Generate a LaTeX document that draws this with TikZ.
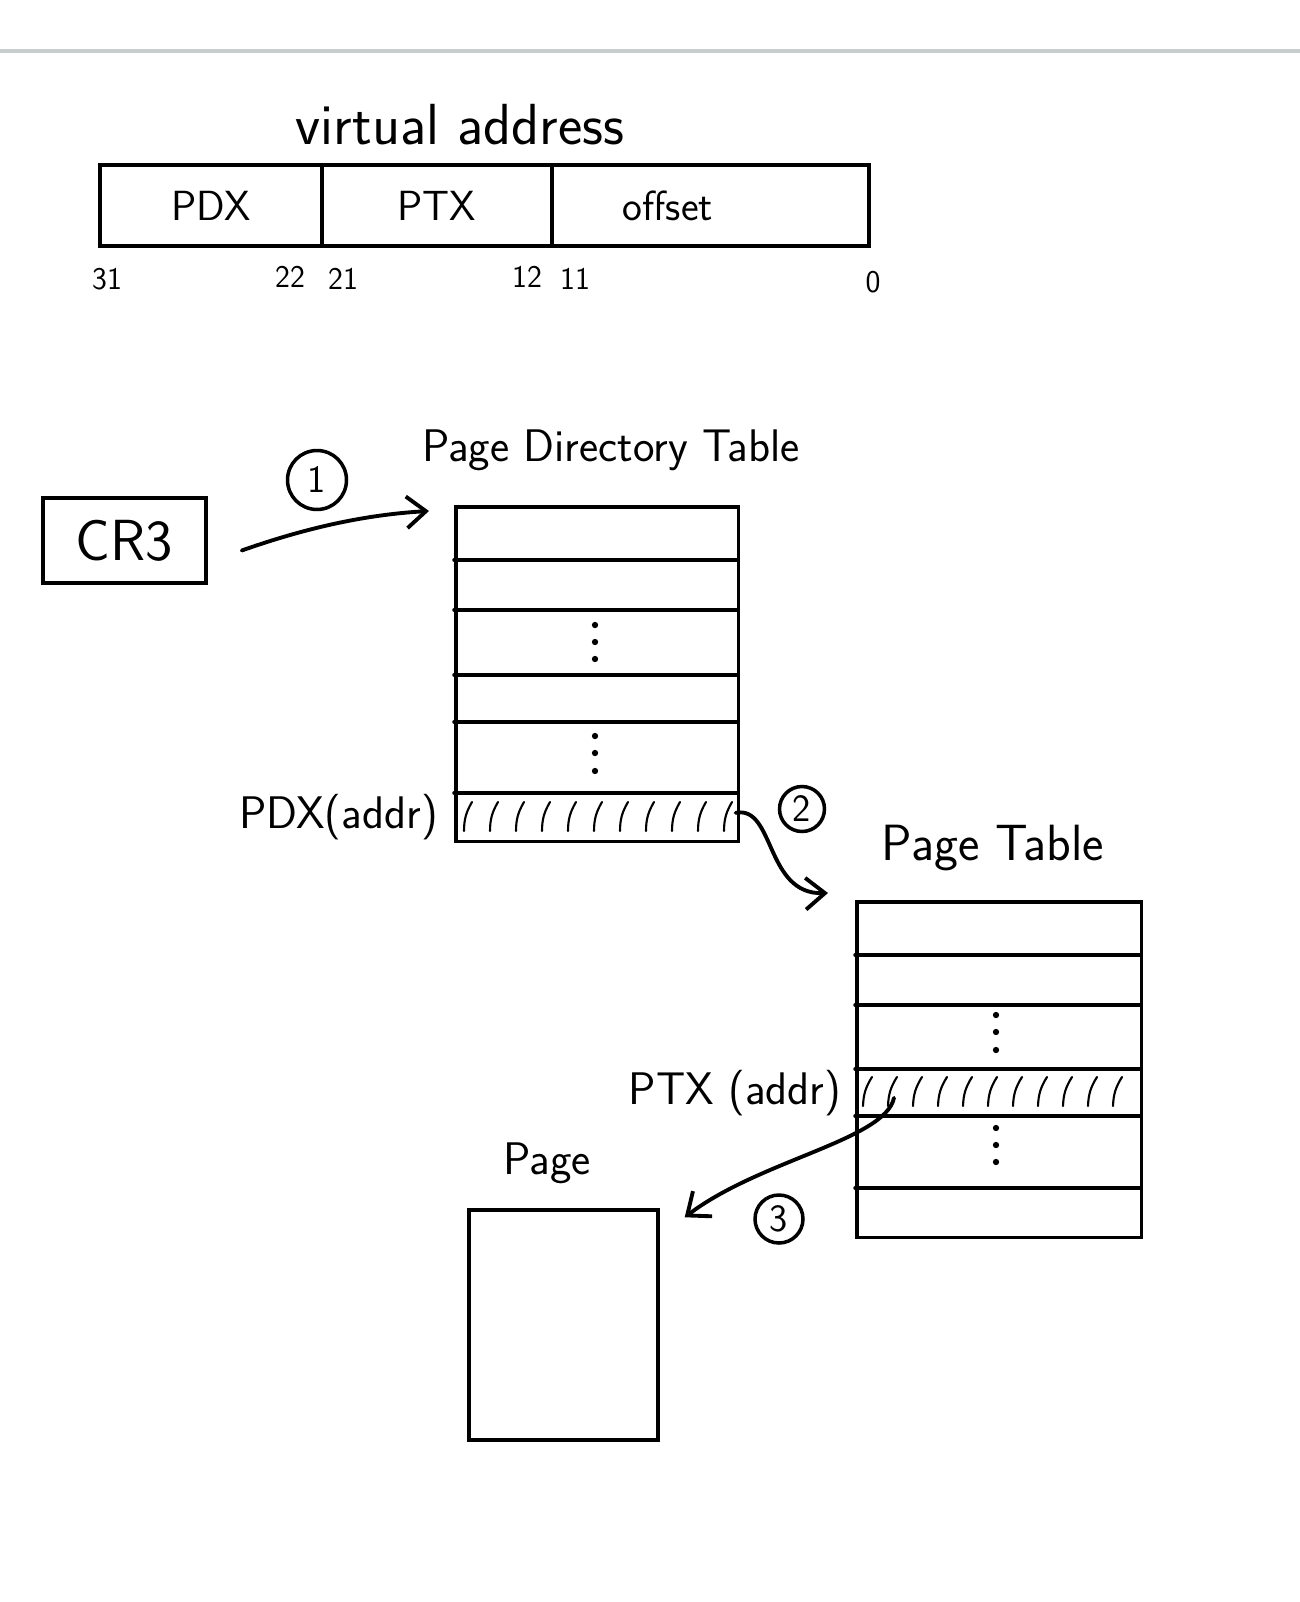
\documentclass[tikz,border=0pt]{standalone}
\usepackage{fontspec}
\usetikzlibrary{arrows.meta,positioning}

\definecolor{rulegray}{RGB}{200,205,205}

\tikzset{
  hand/.style={line width=2pt, line cap=round},
  arr/.style={line width=2.2pt, line cap=round, -{Straight Barb[length=11pt,width=18pt,line width=2.2pt]}},
  hatch/.style={line width=1.2pt, line cap=round},
  title/.style={font=\sffamily\fontsize{26}{30}\selectfont},
  field/.style={draw, hand, outer sep=0pt, minimum height=1.62cm, inner sep=0pt, font=\sffamily\fontsize{24}{28}\selectfont},
  bit/.style={font=\sffamily\fontsize{18}{20}\selectfont},
  stepmark/.style={draw, hand, circle, inner sep=0pt, font=\sffamily\fontsize{22}{24}\selectfont},
  tablebox/.style={draw, hand, inner sep=0pt},
  entry/.style={inner sep=0pt},
}

\begin{document}
\begin{tikzpicture}[x=0.02cm, y=-0.02cm]

  % page and top rule
  \fill[white] (0,0) rectangle (1300,1602);
  \useasboundingbox (0,0) rectangle (1300,1602);
  \draw[rulegray, line width=2.2pt] (0,51) -- (1300,51);

  % virtual address layout
  \node[title, font=\sffamily\fontsize{33}{36}\selectfont] (vtitle) at (460,125) {virtual address};
  \node[field, minimum width=4.44cm] (pdxf) at (211,205.5) {PDX};
  \node[field, minimum width=4.6cm, right=0pt of pdxf] (ptxf) {PTX};
  \node[field, minimum width=6.34cm, right=0pt of ptxf] (offf) {\hspace*{-1.7cm}offset};

  \node[bit] (b31) at (107,279) {31};
  \node[bit] (b22) at (290,277) {22};
  \node[bit] (b21) at (343,279) {21};
  \node[bit] (b12) at (527,277) {12};
  \node[bit] (b11) at (575,279) {11};
  \node[bit] (b0)  at (873,282) {0};

  % CR3
  \node[draw, hand, minimum width=3.26cm, minimum height=1.7cm,
        font=\sffamily\fontsize{33}{36}\selectfont] (cr3) at (124.5,540.5) {CR3};

  % Page Directory Table
  \node[title] (pdttitle) at (611,450) {Page Directory Table};
  \begin{scope}[shift={(454,505)}]
    \node[tablebox, minimum width=5.66cm, minimum height=6.7cm, anchor=north west] (pdt) at (0,0) {};
    \foreach \r in {55,105,170,217,288}
      \draw[hand] (0,\r) -- (283,\r);
    \node[entry, minimum width=5.66cm, minimum height=0.94cm, anchor=north west] (pdxrow) at (0,288) {};
    \foreach \x in {10,36,...,270}
      \draw[hatch] (\x,326) to[bend left=15] (\x+8,297);
    \foreach \y in {120,137,154,231,248,266}
      \fill (141,\y) circle (1.8pt);
  \end{scope}
  \node[title, left=0.2cm of pdxrow] (pdxlabel) {PDX(addr)};

  % Page Table
  \node[title, font=\sffamily\fontsize{29}{32}\selectfont] (pttitle) at (993,848) {Page Table};
  \begin{scope}[shift={(855,900)}]
    \node[tablebox, minimum width=5.7cm, minimum height=6.72cm, anchor=north west] (pt) at (0,0) {};
    \foreach \r in {55,105,169,216,288}
      \draw[hand] (0,\r) -- (285,\r);
    \node[entry, minimum width=5.7cm, minimum height=0.94cm, anchor=north west] (ptxrow) at (0,169) {};
    \foreach \x in {8,33,...,270}
      \draw[hatch] (\x,206) to[bend left=15] (\x+9,177);
    \foreach \y in {115,132,150,228,245,262}
      \fill (141,\y) circle (1.8pt);
  \end{scope}
  \node[title, left=0.15cm of ptxrow] (ptxlabel) {PTX (addr)};

  % Page
  \node[title] (pagetitle) at (547,1163) {Page};
  \node[tablebox, minimum width=3.78cm, minimum height=4.6cm] (page) at (563.5,1325) {};

  % steps
  \node[stepmark, minimum size=1.18cm] (s1) at (317,480) {1};
  \node[stepmark, minimum size=0.9cm] (s2) at (802,809) {2};
  \node[stepmark, minimum size=0.96cm] (s3) at (779,1219) {3};

  \draw[arr] ([shift={(34,10)}]cr3.east) .. controls (300,530) and (360,515) .. ([shift={(-25,6)}]pdt.north west);
  \draw[arr] ([shift={(-2,-4)}]pdxrow.east) .. controls (775,805) and (765,895) .. ([shift={(-27,-7)}]pt.north west);
  \draw[arr] ([shift={(39,5)}]ptxrow.west) .. controls (885,1140) and (760,1160) .. ([shift={(25,9)}]page.north east);

\end{tikzpicture}
\end{document}
